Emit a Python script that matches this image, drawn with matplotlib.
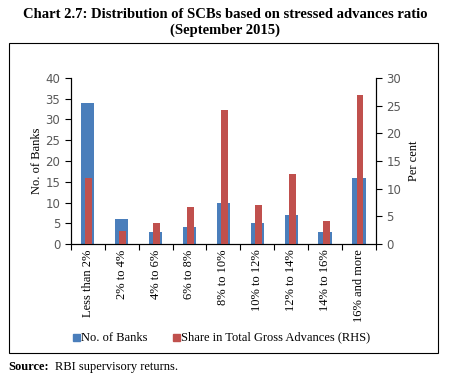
import numpy as np
import matplotlib.pyplot as plt
from matplotlib.patches import Rectangle

categories = ['Less than 2%', '2% to 4%', '4% to 6%', '6% to 8%', '8% to 10%',
              '10% to 12%', '12% to 14%', '14% to 16%', '16% and more']
banks = [34, 6, 3, 4, 10, 5, 7, 3, 16]
share = [12.0, 2.3, 3.8, 6.7, 24.2, 7.1, 12.7, 4.2, 26.9]

BLUE = '#4a7ebb'
RED = '#c0504d'
SERIF = 'Liberation Serif'
SANS = 'DejaVu Sans'

fig = plt.figure(figsize=(4.5, 3.82), dpi=100)
ax = fig.add_axes([0.157, 0.361, 0.679, 0.435])
ax2 = ax.twinx()

x = np.arange(len(categories))
ax.bar(x, banks, width=0.4, color=BLUE, zorder=2)
ax2.bar(x + 0.03, share, width=0.19, color=RED, zorder=3)

ax.set_xlim(-0.5, len(categories) - 0.5)
ax.set_ylim(0, 40)
ax2.set_ylim(0, 30)
ax.set_yticks(range(0, 41, 5))
ax2.set_yticks(range(0, 31, 5))

ax.set_xticks(x)
ax.set_xticklabels(categories, rotation=90, fontsize=9, family=SERIF)
ax.set_xticks(np.arange(-0.5, len(categories), 1), minor=True)
ax.tick_params(axis='x', which='major', length=0, pad=4)
ax.tick_params(axis='x', which='minor', length=4, direction='out', width=0.8)
ax.tick_params(axis='y', length=4, direction='out', labelsize=8.5, width=0.8)
ax2.tick_params(axis='y', length=4, direction='out', labelsize=8.5, width=0.8)
for lab in ax.get_yticklabels() + ax2.get_yticklabels():
    lab.set_family(SANS)
    lab.set_color('#595959')

for a in (ax, ax2):
    a.spines['top'].set_visible(False)
    for s in ('left', 'right', 'bottom'):
        a.spines[s].set_linewidth(0.8)

ax.set_ylabel('No. of Banks', family=SERIF, fontsize=9, labelpad=2)
ax2.set_ylabel('Per cent', family=SERIF, fontsize=9, labelpad=5)

fig.text(0.5, 0.963, 'Chart 2.7: Distribution of SCBs based on stressed advances ratio',
         ha='center', va='center', family=SERIF, weight='bold', fontsize=10.5)
fig.text(0.5, 0.922, '(September 2015)', ha='center', va='center',
         family=SERIF, weight='bold', fontsize=10.5)

fig.patches.append(Rectangle((0.02, 0.076), 0.953, 0.811, transform=fig.transFigure,
                             fill=False, edgecolor='black', linewidth=0.8))

# legend
fig.patches.append(Rectangle((0.162, 0.107), 0.015, 0.018, transform=fig.transFigure,
                             color=BLUE))
fig.text(0.179, 0.116, 'No. of Banks', va='center', family=SERIF, fontsize=9)
fig.patches.append(Rectangle((0.385, 0.107), 0.015, 0.018, transform=fig.transFigure,
                             color=RED))
fig.text(0.402, 0.116, 'Share in Total Gross Advances (RHS)', va='center',
         family=SERIF, fontsize=9)

fig.text(0.018, 0.038, 'Source:', va='center', family=SERIF, weight='bold', fontsize=9)
fig.text(0.122, 0.038, 'RBI supervisory returns.', va='center', family=SERIF, fontsize=9)

fig.savefig('out.png', dpi=100)
